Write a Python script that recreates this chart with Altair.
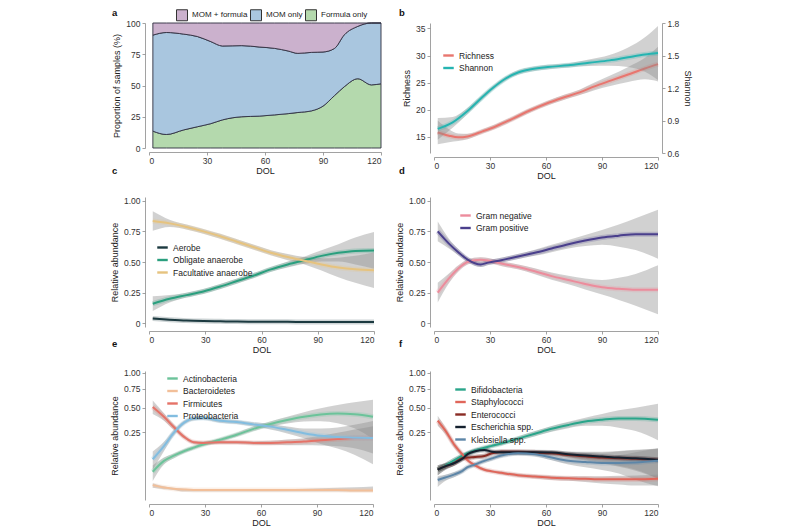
import altair as alt
import pandas as pd

FONT = "Liberation Sans"
X_TICKS = [0, 30, 60, 90, 120]

# ---------------- panel a : proportion of samples ----------------
A_DAYS = [2, 9, 18, 25, 32, 38, 48, 57, 65, 72, 77, 84, 90, 96, 101, 108, 115, 120]
A_FORMULA_ONLY = [13.5, 10.8, 14.5, 17.0, 19.5, 22.5, 25.0, 25.5, 26.5, 27.5, 28.4, 29.7, 33.5, 42.0, 49.0, 55.4, 50.5, 51.4]
A_MOM_ONLY = [76.8, 81.6, 76.6, 72.2, 65.6, 59.1, 56.9, 55.3, 53.2, 50.1, 47.3, 46.8, 43.3, 37.7, 41.5, 41.9, 49.5, 48.6]
A_MOM_FORMULA = [9.7, 7.6, 8.9, 10.8, 14.9, 18.4, 18.1, 19.2, 20.3, 22.4, 24.3, 23.5, 23.2, 20.3, 9.5, 2.7, 0.0, 0.0]
A_GROUPS = ["MOM + formula", "MOM only", "Formula only"]
A_COLORS = ["#cbb1cd", "#a9c6df", "#b4d9ad"]

# ---------------- panel b : richness / Shannon ----------------
B_RICH_DAYS = [2, 8, 13, 18, 26, 33, 42, 51, 60, 69, 78, 86, 95, 104, 113, 120]
B_RICHNESS = [15.8, 15.2, 14.9, 15.06, 16.0, 16.9, 18.3, 19.8, 21.1, 22.2, 23.2, 24.3, 25.4, 26.5, 27.6, 28.4]
B_RICHNESS_SE = [2.2, 1.2, 0.7, 0.5, 0.4, 0.4, 0.4, 0.4, 0.4, 0.45, 0.5, 0.7, 1.0, 1.4, 2.0, 3.2]
B_SHAN_DAYS = [2, 10, 17, 24, 31, 38, 45, 52, 61, 72, 83, 94, 104, 113, 120]
B_SHANNON = [0.823, 0.882, 0.973, 1.085, 1.193, 1.283, 1.343, 1.373, 1.394, 1.409, 1.433, 1.455, 1.484, 1.509, 1.523]
B_SHANNON_SE = [0.1, 0.05, 0.03, 0.025, 0.02, 0.02, 0.02, 0.02, 0.02, 0.02, 0.03, 0.05, 0.09, 0.16, 0.25]
B_NAMES = ["Richness", "Shannon"]
B_COLORS = ["#e8766f", "#25b4b1"]

# ---------------- panel c : oxygen tolerance ----------------
C_DAYS = [2, 11, 20, 29, 38, 47, 56, 65, 74, 83, 92, 101, 110, 120]
C_NAMES = ["Aerobe", "Obligate anaerobe", "Facultative anaerobe"]
C_COLORS = ["#1c3a40", "#2a9f7e", "#e6c37f"]
C_VALUES = [
    [0.04, 0.03, 0.022, 0.018, 0.016, 0.014, 0.013, 0.012, 0.012, 0.011, 0.011, 0.011, 0.011, 0.011],
    [0.16, 0.20, 0.23, 0.26, 0.30, 0.345, 0.39, 0.44, 0.48, 0.515, 0.55, 0.575, 0.59, 0.594],
    [0.834, 0.815, 0.785, 0.75, 0.71, 0.665, 0.62, 0.575, 0.54, 0.51, 0.48, 0.455, 0.44, 0.433],
]
C_SE = [
    [0.01, 0.006, 0.004, 0.003, 0.003, 0.003, 0.003, 0.003, 0.003, 0.004, 0.005, 0.006, 0.007, 0.008],
    [0.06, 0.03, 0.02, 0.02, 0.02, 0.02, 0.02, 0.02, 0.025, 0.03, 0.045, 0.07, 0.11, 0.15],
    [0.08, 0.03, 0.02, 0.02, 0.02, 0.02, 0.02, 0.02, 0.025, 0.03, 0.05, 0.08, 0.11, 0.145],
]

# ---------------- panel d : Gram stain ----------------
D_DAYS = [2, 8, 13, 18, 25, 29, 36, 45, 54, 63, 72, 81, 90, 99, 108, 120]
D_NAMES = ["Gram negative", "Gram positive"]
D_COLORS = ["#ec8c9c", "#4a3f8c"]
D_VALUES = [
    [0.25, 0.366, 0.447, 0.50, 0.519, 0.513, 0.487, 0.46, 0.425, 0.385, 0.353, 0.321, 0.294, 0.281, 0.273, 0.273],
    [0.75, 0.65, 0.58, 0.52, 0.48, 0.495, 0.515, 0.545, 0.575, 0.61, 0.645, 0.675, 0.70, 0.715, 0.727, 0.727],
]
D_SE = [
    [0.08, 0.04, 0.025, 0.02, 0.02, 0.02, 0.02, 0.02, 0.025, 0.03, 0.035, 0.045, 0.06, 0.09, 0.13, 0.2],
    [0.08, 0.04, 0.025, 0.02, 0.02, 0.02, 0.02, 0.02, 0.025, 0.03, 0.035, 0.045, 0.06, 0.09, 0.13, 0.2],
]

# ---------------- panel e : phyla ----------------
E_DAYS = [2, 8, 13, 19, 24, 29, 38, 47, 56, 65, 74, 83, 92, 101, 110, 120]
E_NAMES = ["Actinobacteria", "Bacteroidetes", "Firmicutes", "Proteobacteria"]
E_COLORS = ["#6cc39a", "#f2bf99", "#e57368", "#82bde0"]
E_VALUES = [
    [0.028, 0.067, 0.09, 0.117, 0.137, 0.157, 0.19, 0.229, 0.279, 0.324, 0.363, 0.397, 0.421, 0.431, 0.424, 0.397],
    [0.003, 0.0012, 0.0006, 0.0003, 0.0002, 0.0002, 0.0002, 0.0002, 0.0002, 0.0002, 0.0002, 0.0002, 0.0002, 0.0002, 0.0001, 0.0001],
    [0.507, 0.396, 0.30, 0.21, 0.172, 0.168, 0.172, 0.172, 0.168, 0.168, 0.172, 0.177, 0.186, 0.195, 0.203, 0.203],
    [0.074, 0.146, 0.24, 0.34, 0.379, 0.383, 0.356, 0.343, 0.32, 0.299, 0.27, 0.242, 0.221, 0.211, 0.206, 0.203],
]
E_SE = [
    [0.02, 0.015, 0.012, 0.012, 0.012, 0.012, 0.014, 0.016, 0.02, 0.025, 0.035, 0.05, 0.07, 0.1, 0.14, 0.2],
    [0.002, 0.0008, 0.0004, 0.0003, 0.0002, 0.0002, 0.0002, 0.0002, 0.0002, 0.0002, 0.0003, 0.0004, 0.0006, 0.0009, 0.0013, 0.0018],
    [0.08, 0.04, 0.025, 0.015, 0.012, 0.012, 0.012, 0.012, 0.012, 0.015, 0.02, 0.025, 0.035, 0.05, 0.07, 0.1],
    [0.04, 0.03, 0.025, 0.02, 0.02, 0.02, 0.02, 0.02, 0.02, 0.025, 0.03, 0.04, 0.06, 0.08, 0.11, 0.15],
]

# ---------------- panel f : genera ----------------
F_DAYS = [2, 6, 11, 15, 18, 22, 27, 31, 36, 45, 54, 63, 72, 81, 90, 99, 108, 120]
F_NAMES = ["Bifidobacteria", "Staphylococci", "Enterococci", "Escherichia spp.", "Klebsiella spp."]
F_COLORS = ["#2aa58a", "#e0665a", "#8a2c24", "#14202e", "#5d86a8"]
F_VALUES = [
    [0.034, 0.047, 0.07, 0.09, 0.104, 0.12, 0.136, 0.148, 0.164, 0.199, 0.237, 0.279, 0.315, 0.347, 0.366, 0.379, 0.379, 0.366],
    [0.357, 0.265, 0.153, 0.10, 0.07, 0.049, 0.034, 0.029, 0.025, 0.019, 0.016, 0.0136, 0.0124, 0.0115, 0.0106, 0.0106, 0.0106, 0.0117],
    [0.034, 0.045, 0.058, 0.079, 0.082, 0.085, 0.09, 0.104, 0.113, 0.112, 0.109, 0.104, 0.095, 0.088, 0.082, 0.079, 0.076, 0.072],
    [0.034, 0.045, 0.058, 0.075, 0.099, 0.115, 0.123, 0.113, 0.109, 0.109, 0.109, 0.108, 0.099, 0.092, 0.087, 0.082, 0.079, 0.072],
    [0.0095, 0.014, 0.021, 0.03, 0.042, 0.052, 0.067, 0.078, 0.092, 0.104, 0.099, 0.082, 0.067, 0.062, 0.058, 0.058, 0.06, 0.067],
]
F_SE = [
    [0.015, 0.012, 0.012, 0.012, 0.012, 0.012, 0.012, 0.012, 0.014, 0.016, 0.02, 0.025, 0.03, 0.04, 0.06, 0.09, 0.12, 0.18],
    [0.05, 0.03, 0.02, 0.012, 0.008, 0.006, 0.005, 0.004, 0.004, 0.004, 0.004, 0.004, 0.004, 0.005, 0.006, 0.007, 0.008, 0.009],
    [0.015, 0.012, 0.01, 0.01, 0.01, 0.01, 0.01, 0.01, 0.01, 0.01, 0.01, 0.012, 0.015, 0.02, 0.025, 0.035, 0.045, 0.06],
    [0.015, 0.012, 0.01, 0.01, 0.01, 0.01, 0.01, 0.01, 0.01, 0.01, 0.01, 0.012, 0.015, 0.02, 0.025, 0.035, 0.045, 0.06],
    [0.008, 0.006, 0.006, 0.006, 0.006, 0.007, 0.008, 0.009, 0.01, 0.01, 0.01, 0.012, 0.015, 0.02, 0.025, 0.035, 0.05, 0.065],
]


def long_df(days, names, values, ses):
    rows = []
    for n, vals, errs in zip(names, values, ses):
        for d, v, e in zip(days, vals, errs):
            rows.append({"day": d, "series": n, "value": v,
                         "lo": max(v - e, 0.0), "hi": v + e})
    return pd.DataFrame(rows)


def x_enc():
    return alt.X("day:Q", scale=alt.Scale(domain=[0, 120], nice=False, zero=False),
                 axis=alt.Axis(values=X_TICKS, title="DOL", offset=4, format="d",
                               labelPadding=1, titlePadding=2))


def legend(lx, ly):
    return alt.Legend(orient="none", legendX=lx, legendY=ly, symbolType="stroke",
                      symbolStrokeWidth=2.4, symbolSize=110, labelFontSize=8.5,
                      labelFont=FONT, rowPadding=0.5, labelOffset=4, padding=0,
                      labelColor="#222")


def smooth_layers(df, names, colors, yscale, yaxis, leg):
    base = alt.Chart(df)
    band = base.mark_area(interpolate="monotone", fill="#8c8c8c", opacity=0.4).encode(
        x=x_enc(), y=alt.Y("lo:Q", scale=yscale, axis=yaxis), y2="hi:Q", detail="series:N")
    halos = [
        base.transform_filter(alt.datum.series == n).mark_line(
            interpolate="monotone", strokeWidth=5, strokeOpacity=0.22, color=c).encode(
            x=x_enc(), y=alt.Y("value:Q", scale=yscale, axis=yaxis))
        for n, c in zip(names, colors) if n in set(df["series"])
    ]
    line = base.mark_line(interpolate="monotone", strokeWidth=2).encode(
        x=x_enc(), y=alt.Y("value:Q", scale=yscale, axis=yaxis),
        color=alt.Color("series:N", title=None,
                        scale=alt.Scale(domain=names, range=colors), legend=leg))
    return [band] + halos + [line]


def letter(ch, dx, dy):
    return alt.Chart(pd.DataFrame({"t": [ch]})).mark_text(
        font=FONT, fontSize=9.5, fontWeight="bold", align="left", baseline="middle",
        color="#111").encode(text="t:N", x=alt.value(dx), y=alt.value(dy))


# ---- panel a
a_rows = []
for grp, ordv, vals in [("Formula only", 0, A_FORMULA_ONLY), ("MOM only", 1, A_MOM_ONLY),
                        ("MOM + formula", 2, A_MOM_FORMULA)]:
    for d, v in zip(A_DAYS, vals):
        a_rows.append({"day": d, "group": grp, "ord": ordv, "value": v})
df_a = pd.DataFrame(a_rows)

area_a = alt.Chart(df_a).mark_area(interpolate="monotone", stroke="#2e2e3e",
                                   strokeWidth=0.9).encode(
    x=x_enc(),
    y=alt.Y("value:Q", stack="zero", scale=alt.Scale(domain=[0, 100], nice=False),
            axis=alt.Axis(values=[0, 25, 50, 75, 100], title="Proportion of samples (%)",
                          offset=4)),
    color=alt.Color("group:N", title=None, scale=alt.Scale(domain=A_GROUPS, range=A_COLORS),
                    legend=alt.Legend(orient="none", legendX=27, legendY=-14,
                                      direction="horizontal", symbolType="square",
                                      symbolSize=121, symbolStrokeColor="#333",
                                      symbolStrokeWidth=1, symbolOpacity=1,
                                      columnPadding=0, labelFontSize=8, labelFont=FONT,
                                      labelOffset=4, padding=0, labelColor="#222")),
    order=alt.Order("ord:Q"),
)
panel_a = alt.layer(area_a, letter("a", -37, -10)).properties(width=232, height=125)

# ---- panel b
df_rich = long_df(B_RICH_DAYS, ["Richness"], [B_RICHNESS], [B_RICHNESS_SE])
df_shan = long_df(B_SHAN_DAYS, ["Shannon"], [B_SHANNON], [B_SHANNON_SE])
rich_scale = alt.Scale(domain=[12, 36], nice=False, zero=False)
shan_scale = alt.Scale(domain=[0.6, 1.8], nice=False, zero=False)
rich_axis = alt.Axis(values=[15, 20, 25, 30, 35], title="Richness", offset=4)
shan_axis = alt.Axis(values=[0.6, 0.9, 1.2, 1.5, 1.8], format=".1f", title="Shannon",
                     orient="right", offset=4)
leg_b = legend(8, 26)
rich_layer = alt.layer(*smooth_layers(df_rich, B_NAMES, B_COLORS, rich_scale, rich_axis, leg_b))
shan_layer = alt.layer(*smooth_layers(df_shan, B_NAMES, B_COLORS, shan_scale, shan_axis, leg_b))
panel_b = alt.layer(rich_layer, shan_layer, letter("b", -35, -10)).resolve_scale(
    y="independent").properties(width=224, height=130)

# ---- panels c, d (linear)
lin_scale = alt.Scale(domain=[-0.03, 1.03], nice=False, zero=False)
lin_axis = alt.Axis(values=[0, 0.25, 0.5, 0.75, 1.0], title="Relative abundance", offset=4,
                    labelExpr="datum.value == 0 ? '0' : format(datum.value, '.2f')")
df_c = long_df(C_DAYS, C_NAMES, C_VALUES, C_SE)
panel_c = alt.layer(*smooth_layers(df_c, C_NAMES, C_COLORS, lin_scale, lin_axis, legend(7, 44)),
                    letter("c", -37, -26)).properties(width=225, height=130)
df_d = long_df(D_DAYS, D_NAMES, D_VALUES, D_SE)
panel_d = alt.layer(*smooth_layers(df_d, D_NAMES, D_COLORS, lin_scale, lin_axis, legend(25, 12)),
                    letter("d", -35, -26)).properties(width=224, height=130)

# ---- panels e, f (square-root)
sq_scale = alt.Scale(type="sqrt", domain=[-0.005, 1.03], nice=False, zero=False)
sq_axis = alt.Axis(values=[0.25, 0.5, 0.75, 1.0], format=".2f", title="Relative abundance",
                   offset=4)
df_e = long_df(E_DAYS, E_NAMES, E_VALUES, E_SE)
panel_e = alt.layer(*smooth_layers(df_e, E_NAMES, E_COLORS, sq_scale, sq_axis, legend(17, 1)),
                    letter("e", -37, -27)).properties(width=224, height=129)
df_f = long_df(F_DAYS, F_NAMES, F_VALUES, F_SE)
panel_f = alt.layer(*smooth_layers(df_f, F_NAMES, F_COLORS, sq_scale, sq_axis, legend(20, 12)),
                    letter("f", -35, -27)).properties(width=224, height=129)

chart = alt.concat(panel_a, panel_b, panel_c, panel_d, panel_e, panel_f, columns=2).properties(
    bounds="flush", spacing={"row": 44, "column": 53},
    padding={"left": 102, "top": 0, "right": 4, "bottom": 0},
).resolve_scale(color="independent").configure_view(
    stroke=None).configure_axis(
    labelFont=FONT, titleFont=FONT, labelFontSize=8.5, titleFontSize=9,
    titleFontWeight="normal", labelColor="#333", titleColor="#222",
    domainColor="#8a8a8a", tickColor="#8a8a8a", tickSize=3, grid=False,
    domainWidth=0.8, tickWidth=0.8, labelPadding=2, titlePadding=4,
).configure_text(font=FONT)

chart.save("out.html", embed_options={"renderer": "svg", "actions": False})
